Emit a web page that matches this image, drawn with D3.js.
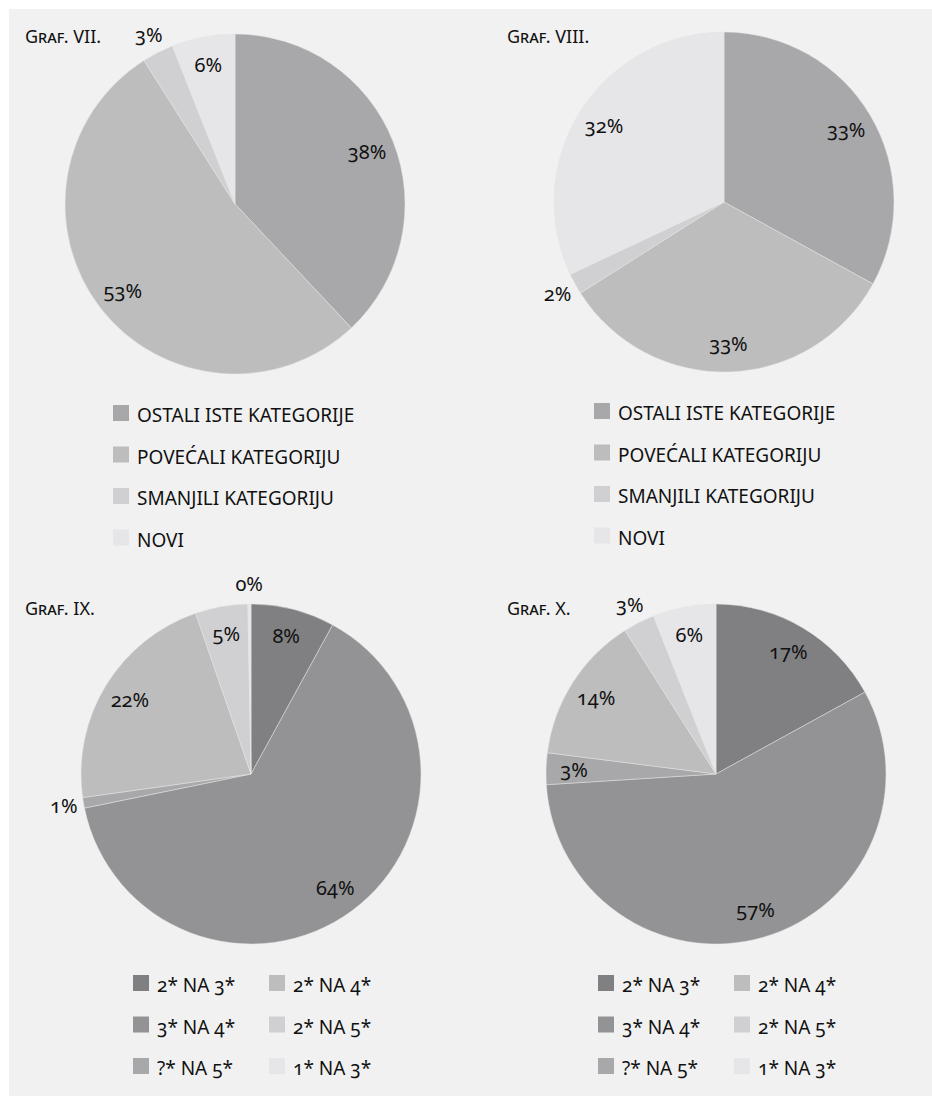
<!DOCTYPE html>
<html lang="hr">
<head>
<meta charset="utf-8">
<title>Graf. VII - X</title>
<script src="https://cdn.jsdelivr.net/npm/d3@7"></script>
<style>
  body { margin: 0; background: #fff; }
  svg { display: block; font-family: "Noto Sans", "Open Sans", sans-serif; }
  .num { font-variant-numeric: oldstyle-nums; }
  .title { font-variant: small-caps; }
</style>
</head>
<body>
<div id="chart"></div>
<script>
// podaci
var kategorijeA = ["OSTALI ISTE KATEGORIJE", "POVEĆALI KATEGORIJU", "SMANJILI KATEGORIJU", "NOVI"];
var graf7 = [38, 53, 3, 6];
var graf8 = [33, 33, 2, 32];

var kategorijeB = ["2* NA 3*", "3* NA 4*", "?* NA 5*", "2* NA 4*", "2* NA 5*", "1* NA 3*"];
var graf9 = [8, 64, 1, 22, 5, 0.3];
var graf10 = [17, 57, 3, 14, 3, 6];

var bojeA = ["#a8a8aa", "#bdbdbe", "#d0d0d2", "#e6e6e8"];
var bojeB = ["#808083", "#939396", "#a8a8aa", "#bdbdbe", "#d0d0d2", "#e6e6e8"];

var W = 932, H = 1096, R = 170;

var svg = d3.select("#chart").append("svg")
  .attr("width", W)
  .attr("height", H);

// sivi panel
svg.append("rect")
  .attr("x", 9).attr("y", 9)
  .attr("width", W - 9).attr("height", H - 9)
  .attr("fill", "#f1f1f1");

var paneli = [
  { naslov: "Graf. VII.", tx: 25, ty: 43, cx: 235, cy: 204, vrijednosti: graf7, kat: kategorijeA, boje: bojeA,
    lx: 113, ly: 405, stupci: 1 },
  { naslov: "Graf. VIII.", tx: 507, ty: 43, cx: 724, cy: 202, vrijednosti: graf8, kat: kategorijeA, boje: bojeA,
    lx: 594, ly: 403, stupci: 1 },
  { naslov: "Graf. IX.", tx: 25, ty: 615, cx: 251, cy: 774, vrijednosti: graf9, kat: kategorijeB, boje: bojeB,
    lx: 133, ly: 975, stupci: 2 },
  { naslov: "Graf. X.", tx: 507, ty: 615, cx: 716, cy: 774, vrijednosti: graf10, kat: kategorijeB, boje: bojeB,
    lx: 598, ly: 975, stupci: 2 }
];

var pie = d3.pie().sort(null).value(function(d) { return d; });
var arc = d3.arc().innerRadius(0).outerRadius(R);
var unutra = d3.arc().innerRadius(142).outerRadius(142);
var vani = d3.arc().innerRadius(190).outerRadius(190);

paneli.forEach(function(p) {
  var boja = d3.scaleOrdinal().domain(d3.range(p.kat.length)).range(p.boje);

  svg.append("text")
    .attr("class", "title")
    .attr("x", p.tx).attr("y", p.ty)
    .attr("font-size", "18px")
    .attr("fill", "#111")
    .text(p.naslov);

  var g = svg.append("g").attr("transform", "translate(" + p.cx + "," + p.cy + ")");
  var lukovi = pie(p.vrijednosti);

  g.selectAll("path")
    .data(lukovi)
    .enter().append("path")
    .attr("d", arc)
    .attr("fill", function(d, i) { return boja(i); })
    .attr("stroke", "#e4e4e4")
    .attr("stroke-width", 0.5);

  // natpisi: mali isjecci idu van ako se sudaraju sa susjedom
  var poz = lukovi.map(function(d) { return unutra.centroid(d); });
  var vanjski = lukovi.map(function(d, i) {
    if (d.data < 3) return true;
    if (d.data > 4) return false;
    return poz.some(function(q, j) {
      if (j === i || lukovi[j].data < 3) return false;
      return Math.abs(q[0] - poz[i][0]) < 46 && Math.abs(q[1] - poz[i][1]) < 26;
    });
  });

  g.selectAll("text.num")
    .data(lukovi)
    .enter().append("text")
    .attr("class", "num")
    .attr("transform", function(d, i) {
      var c = vanjski[i] ? vani.centroid(d) : poz[i];
      return "translate(" + c[0] + "," + c[1] + ")";
    })
    .attr("text-anchor", "middle")
    .attr("dy", "0.35em")
    .attr("font-size", "20px")
    .attr("fill", "#111")
    .text(function(d) { return Math.round(d.data) + "%"; });

  // legenda
  var redova = Math.ceil(p.kat.length / p.stupci);
  var leg = svg.append("g").attr("transform", "translate(" + p.lx + "," + p.ly + ")");
  var stavka = leg.selectAll("g")
    .data(p.kat)
    .enter().append("g")
    .attr("transform", function(d, i) {
      var s = Math.floor(i / redova), r = i % redova;
      return "translate(" + (s * 136) + "," + (r * 41.5) + ")";
    });
  stavka.append("rect")
    .attr("width", 16).attr("height", 16)
    .attr("fill", function(d, i) { return boja(i); });
  stavka.append("text")
    .attr("class", "num")
    .attr("x", 24).attr("y", 17)
    .attr("font-size", "19px")
    .attr("fill", "#111")
    .text(function(d) { return d; });
});
</script>
</body>
</html>
